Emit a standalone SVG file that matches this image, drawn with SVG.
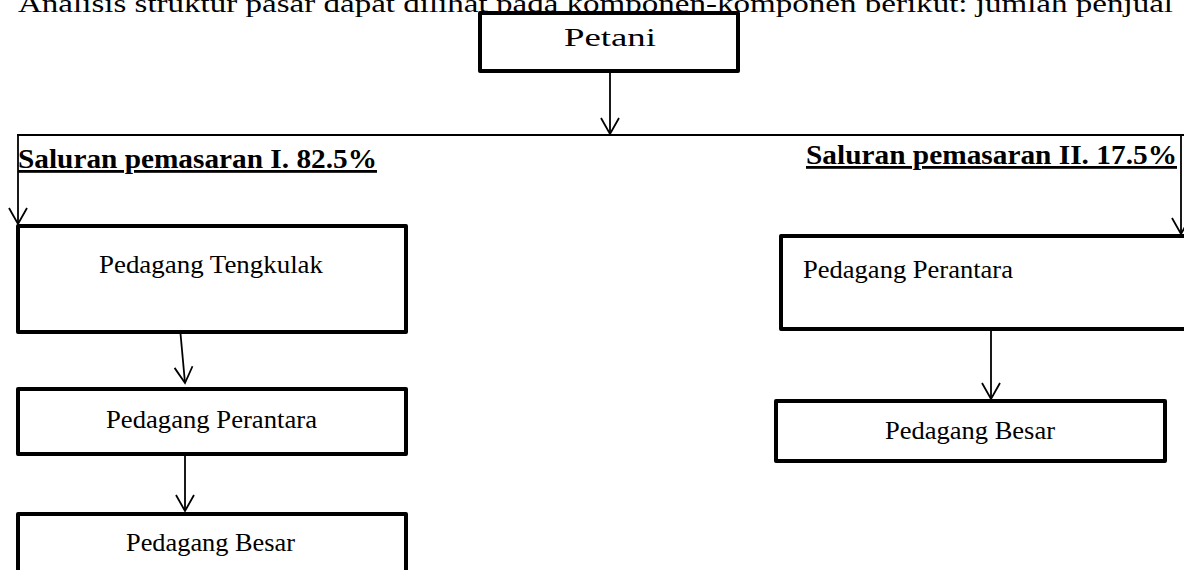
<svg xmlns="http://www.w3.org/2000/svg" width="1184" height="570" viewBox="0 0 1184 570">
<style>
.box{fill:#fff;stroke:#000;stroke-width:4;stroke-linejoin:round}
.t{font-family:"Liberation Serif","Times New Roman",serif;font-size:26px;fill:#000}
.b{font-family:"Liberation Serif","Times New Roman",serif;font-size:28px;font-weight:bold;fill:#000;text-decoration:underline}
.c{fill:none;stroke:#000;stroke-width:1.8}
</style>
<defs>
<marker id="ah" markerWidth="22" markerHeight="22" refX="20" refY="11" orient="auto" markerUnits="userSpaceOnUse">
<path d="M4,2 L20,11 L4,20" fill="none" stroke="#000" stroke-width="1.8"/>
</marker>
</defs>
<rect width="1184" height="570" fill="#fff"/>
<text class="t" x="18" y="12" font-size="28" textLength="1155" lengthAdjust="spacingAndGlyphs">Analisis struktur pasar dapat dilihat pada  komponen-komponen berikut: jumlah penjual</text>
<g id="connectors">
<line class="c" x1="610" y1="72" x2="610" y2="134" marker-end="url(#ah)"/>
<line class="c" x1="17" y1="135" x2="1184" y2="135" stroke-width="2"/>
<line class="c" x1="18" y1="135" x2="18" y2="224" marker-end="url(#ah)"/>
<line class="c" x1="1181" y1="135" x2="1181" y2="234" marker-end="url(#ah)"/>
<line class="c" x1="180" y1="328" x2="185" y2="383" marker-end="url(#ah)"/>
<line class="c" x1="185" y1="456" x2="185" y2="511" marker-end="url(#ah)"/>
<line class="c" x1="991" y1="331" x2="991" y2="399" marker-end="url(#ah)"/>
</g>
<g id="petani">
<rect class="box" x="480" y="13" width="258" height="58"/>
<text class="t" x="610" y="46" text-anchor="middle" textLength="92" lengthAdjust="spacingAndGlyphs">Petani</text>
</g>
<g id="label1">
<text class="b" x="18" y="168" textLength="359" lengthAdjust="spacingAndGlyphs">Saluran pemasaran I. 82.5%</text>
</g>
<g id="label2">
<text class="b" x="806" y="164" textLength="371" lengthAdjust="spacingAndGlyphs">Saluran pemasaran II. 17.5%</text>
</g>
<g id="tengkulak">
<rect class="box" x="18" y="226" width="388" height="106"/>
<text class="t" x="99" y="273" textLength="224" lengthAdjust="spacingAndGlyphs">Pedagang Tengkulak</text>
</g>
<g id="perantara1">
<rect class="box" x="18" y="389" width="388" height="65"/>
<text class="t" x="106" y="428" textLength="211" lengthAdjust="spacingAndGlyphs">Pedagang Perantara</text>
</g>
<g id="besar1">
<rect class="box" x="18" y="514" width="388" height="70"/>
<text class="t" x="126" y="551" textLength="169" lengthAdjust="spacingAndGlyphs">Pedagang Besar</text>
</g>
<g id="perantara2">
<rect class="box" x="781" y="236" width="420" height="93"/>
<text class="t" x="803" y="278" textLength="210" lengthAdjust="spacingAndGlyphs">Pedagang Perantara</text>
</g>
<g id="besar2">
<rect class="box" x="776" y="401" width="389" height="60"/>
<text class="t" x="885" y="439" textLength="170" lengthAdjust="spacingAndGlyphs">Pedagang Besar</text>
</g>
</svg>
